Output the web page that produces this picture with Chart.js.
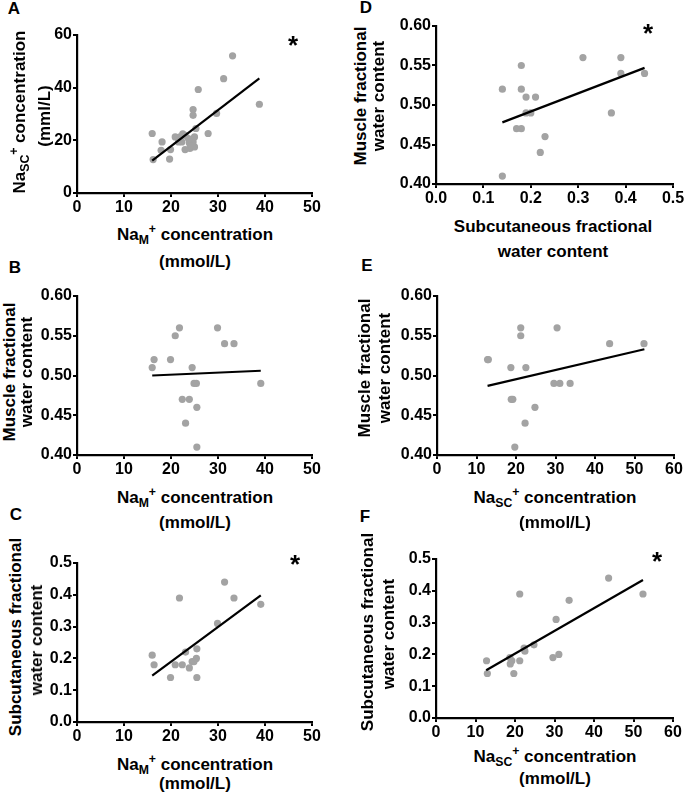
<!DOCTYPE html>
<html>
<head>
<meta charset="utf-8">
<script src="https://cdn.jsdelivr.net/npm/chart.js@4"></script>
<style>
    body { margin: 0; background: #fff; }
    #fig { position: relative; width: 685px; height: 801px; overflow: hidden; font-family: "Liberation Sans", Arial, sans-serif; }
    canvas { position: absolute; }
    .t { position: absolute; transform: translate(-50%, -50%); white-space: nowrap; font-weight: bold; font-size: 17px; color: #000; z-index: 2; }
    .r { transform: translate(-50%, -50%) rotate(-90deg); }
    .lt { font-size: 17px; }
    .star { font-size: 26px; }
    sub, sup { font-size: 0.72em; line-height: 0; }
    sub { vertical-align: -0.3em; }
    sup { vertical-align: 0.55em; }
</style>
</head>
<body>
<div id="fig">
    <canvas id="cA"></canvas>
    <canvas id="cB"></canvas>
    <canvas id="cC"></canvas>
    <canvas id="cD"></canvas>
    <canvas id="cE"></canvas>
    <canvas id="cF"></canvas>

    <div class="t lt" style="left:14px; top:9px;">A</div>
    <div class="t lt" style="left:366px; top:8px;">D</div>
    <div class="t lt" style="left:15px; top:268px;">B</div>
    <div class="t lt" style="left:367px; top:266px;">E</div>
    <div class="t lt" style="left:16px; top:515px;">C</div>
    <div class="t lt" style="left:365px; top:517px;">F</div>

    <div class="t star" style="left:293px; top:45px;">*</div>
    <div class="t star" style="left:648px; top:33px;">*</div>
    <div class="t star" style="left:295px; top:564px;">*</div>
    <div class="t star" style="left:657px; top:561px;">*</div>

    <!-- A -->
    <div class="t r" style="left:20px; top:112px;">Na<sub>SC</sub><sup>+</sup> concentration</div>
    <div class="t r" style="left:45px; top:116px;">(mml/L)</div>
    <div class="t" style="left:195px; top:235px;">Na<sub>M</sub><sup>+</sup> concentration</div>
    <div class="t" style="left:195px; top:262px;">(mmol/L)</div>
    <!-- B -->
    <div class="t r" style="left:10px; top:372px;">Muscle fractional</div>
    <div class="t r" style="left:27px; top:372px;">water content</div>
    <div class="t" style="left:195px; top:498px;">Na<sub>M</sub><sup>+</sup> concentration</div>
    <div class="t" style="left:195px; top:523px;">(mmol/L)</div>
    <!-- C -->
    <div class="t r" style="left:16px; top:637px;">Subcutaneous fractional</div>
    <div class="t r" style="left:37px; top:640px;">water content</div>
    <div class="t" style="left:195px; top:765px;">Na<sub>M</sub><sup>+</sup> concentration</div>
    <div class="t" style="left:195px; top:784px;">(mmol/L)</div>
    <!-- D -->
    <div class="t r" style="left:361px; top:96px;">Muscle fractional</div>
    <div class="t r" style="left:379px; top:96px;">water content</div>
    <div class="t" style="left:553px; top:227px;">Subcutaneous fractional</div>
    <div class="t" style="left:553px; top:252px;">water content</div>
    <!-- E -->
    <div class="t r" style="left:365px; top:368px;">Muscle fractional</div>
    <div class="t r" style="left:385px; top:368px;">water content</div>
    <div class="t" style="left:555px; top:498px;">Na<sub>SC</sub><sup>+</sup> concentration</div>
    <div class="t" style="left:555px; top:523px;">(mmol/L)</div>
    <!-- F -->
    <div class="t r" style="left:368px; top:632px;">Subcutaneous fractional</div>
    <div class="t r" style="left:389px; top:634px;">water content</div>
    <div class="t" style="left:555px; top:757px;">Na<sub>SC</sub><sup>+</sup> concentration</div>
    <div class="t" style="left:555px; top:779px;">(mmol/L)</div>
</div>

<script>
// panel A: all subjects with sodium measurements
var naM_A  = [16.0, 18.1, 16.2, 17.9, 19.9, 19.7, 20.9, 21.9, 23.0, 24.7, 24.7, 27.9, 29.7, 23.0, 24.0, 25.0, 23.9, 24.7, 25.0, 25.3, 22.3, 23.7, 21.6, 25.8, 31.2, 33.1, 38.8, 22.5, 24.3];
var naSC_A = [22.6, 19.4, 12.7, 16.2, 16.5, 12.9, 21.3, 21.3, 21.9, 31.7, 29.5, 22.6, 30.2, 16.5, 16.9, 17.5, 19.0, 19.4, 21.3, 24.5, 19.4, 20.7, 19.4, 39.3, 43.4, 52.1, 33.7, 22.5, 18.0];

// panels B-F: subjects with water content
var naM         = [16.0, 16.4, 19.9, 20.9, 21.8, 22.4, 23.1, 23.9, 24.5, 24.9, 25.4, 25.5, 25.5, 29.9, 31.4, 33.4, 39.1];
var naSC        = [22.5, 12.8, 13.0, 21.2, 21.2, 19.2, 22.3, 18.8, 18.7, 29.6, 31.1, 24.8, 19.7, 30.4, 43.7, 52.4, 33.7];
var muscleWater = [0.51, 0.52, 0.52, 0.55, 0.56, 0.47, 0.44, 0.47, 0.51, 0.49, 0.49, 0.46, 0.41, 0.56, 0.54, 0.54, 0.49];
var scWater     = [0.21, 0.18, 0.14, 0.18, 0.39, 0.18, 0.22, 0.17, 0.19, 0.19, 0.20, 0.23, 0.14, 0.31, 0.44, 0.39, 0.37];

// regression line ends
var fitA_x = [16.0, 38.8], fitA_y = [12.3, 43.5];
var fitB_x = [16.0, 39.1], fitB_y = [0.500, 0.506];
var fitC_x = [16.0, 39.1], fitC_y = [0.146, 0.398];
var fitD_x = [0.14, 0.44], fitD_y = [0.478, 0.547];
var fitE_x = [12.8, 52.5], fitE_y = [0.487, 0.533];
var fitF_x = [12.7, 52.4], fitF_y = [0.150, 0.434];

var FONT = { family: "'Liberation Sans', Arial, sans-serif", size: 16, weight: "bold" };
var Y_W = 50, X_H = 26, PAD_T = 10, PAD_R = 18;

function pairs(xs, ys) {
    return xs.map(function (x, i) { return { x: x, y: ys[i] }; });
}

function axis(min, max, step, dec, isY) {
    return {
        type: "linear",
        min: min,
        max: max,
        grid: { display: true, drawOnChartArea: false, drawTicks: true, tickLength: 4, color: "#000", lineWidth: 2 },
        border: { display: true, color: "#000", width: 2.2 },
        ticks: {
            stepSize: step,
            color: "#000",
            font: FONT,
            padding: isY ? 1 : 1,
            maxRotation: 0,
            autoSkip: false,
            callback: function (v) { return Number(v).toFixed(dec); }
        },
        afterFit: function (s) {
            if (isY) s.width = Y_W; else s.height = X_H;
            s.paddingLeft = 0; s.paddingRight = 0; s.paddingTop = 0; s.paddingBottom = 0;
        }
    };
}

function makePanel(id, box, xs, ys, fx, fy, xAx, yAx) {
    var cv = document.getElementById(id);
    var w = Y_W + (box.r - box.l) + PAD_R;
    var h = PAD_T + (box.b - box.t) + X_H;
    cv.style.left = (box.l - Y_W) + "px";
    cv.style.top = (box.t - PAD_T) + "px";
    cv.width = w; cv.height = h;
    cv.style.width = w + "px"; cv.style.height = h + "px";

    new Chart(cv.getContext("2d"), {
        type: "scatter",
        data: {
            datasets: [
                {
                    data: pairs(xs, ys),
                    backgroundColor: "#a3a3a3",
                    borderWidth: 0,
                    pointRadius: 3.6,
                    order: 1
                },
                {
                    type: "line",
                    data: pairs(fx, fy),
                    borderColor: "#000",
                    borderWidth: 2.2,
                    pointRadius: 0,
                    fill: false,
                    order: 0
                }
            ]
        },
        options: {
            responsive: false,
            animation: false,
            layout: { padding: { top: PAD_T, right: PAD_R, left: 0, bottom: 0 } },
            plugins: { legend: { display: false }, tooltip: { enabled: false } },
            scales: { x: xAx, y: yAx }
        }
    });
}

makePanel("cA", { l: 77, t: 35, r: 312, b: 193 }, naM_A, naSC_A, fitA_x, fitA_y,
    axis(0, 50, 10, 0, false), axis(0, 60, 20, 0, true));
makePanel("cB", { l: 77, t: 296, r: 312, b: 455 }, naM, muscleWater, fitB_x, fitB_y,
    axis(0, 50, 10, 0, false), axis(0.40, 0.60, 0.05, 2, true));
makePanel("cC", { l: 77, t: 563, r: 312, b: 722 }, naM, scWater, fitC_x, fitC_y,
    axis(0, 50, 10, 0, false), axis(0, 0.5, 0.1, 1, true));
makePanel("cD", { l: 436, t: 26, r: 673, b: 184 }, scWater, muscleWater, fitD_x, fitD_y,
    axis(0, 0.5, 0.1, 1, false), axis(0.40, 0.60, 0.05, 2, true));
makePanel("cE", { l: 437, t: 296, r: 674, b: 455 }, naSC, muscleWater, fitE_x, fitE_y,
    axis(0, 60, 10, 0, false), axis(0.40, 0.60, 0.05, 2, true));
makePanel("cF", { l: 436, t: 559, r: 673, b: 718 }, naSC, scWater, fitF_x, fitF_y,
    axis(0, 60, 10, 0, false), axis(0, 0.5, 0.1, 1, true));
</script>
</body>
</html>
